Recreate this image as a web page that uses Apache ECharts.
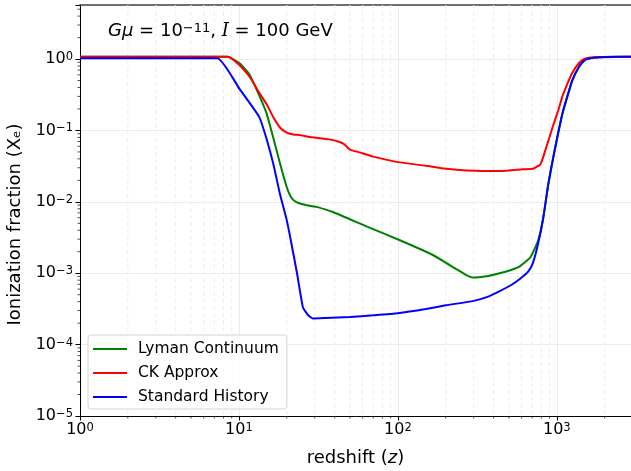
<!DOCTYPE html>
<html>
<head>
<meta charset="utf-8">
<script src="https://cdn.jsdelivr.net/npm/echarts@6/dist/echarts.min.js"></script>
<style>
  html, body { margin: 0; padding: 0; background: #fff; }
  #chart { width: 631px; height: 471px; }
</style>
</head>
<body>
<div id="chart"></div>
<script>
// ---- values ----
const lymanZ  = [1, 8.5, 10.1, 11.7, 13.5, 14.9, 16.4, 18.1, 20, 21.2, 22.5, 24.2, 28, 30.8, 39, 64, 103, 166, 235, 270, 296, 363, 437, 520, 585, 680, 760, 820, 885, 950, 1020, 1090, 1170, 1250, 1380, 1500, 1740, 2000, 2930];
const lymanXe = [1.08, 1.08, 0.87, 0.6, 0.3, 0.175, 0.081, 0.035, 0.016, 0.0118, 0.0102, 0.0095, 0.0088, 0.0085, 0.0072, 0.0045, 0.0029, 0.0018, 0.00113, 0.00094, 0.00087, 0.00091, 0.001, 0.00112, 0.00125, 0.00166, 0.0028, 0.0058, 0.018, 0.042, 0.092, 0.18, 0.31, 0.5, 0.78, 0.97, 1.05, 1.07, 1.08];

const ckZ  = [1, 8.5, 10.1, 11.7, 13.5, 15, 16.4, 18.1, 20, 22, 24.2, 28, 37, 43, 46, 49, 51, 60, 70, 100, 150, 200, 340, 450, 610, 708, 745, 785, 820, 860, 900, 950, 1020, 1090, 1170, 1250, 1380, 1500, 1700, 2930];
const ckXe = [1.08, 1.08, 0.82, 0.56, 0.33, 0.23, 0.155, 0.11, 0.093, 0.088, 0.086, 0.081, 0.075, 0.069, 0.064, 0.056, 0.053, 0.048, 0.043, 0.036, 0.032, 0.029, 0.027, 0.027, 0.0285, 0.029, 0.031, 0.033, 0.042, 0.059, 0.081, 0.119, 0.19, 0.31, 0.46, 0.64, 0.88, 1.01, 1.06, 1.08];

const stdZ  = [1, 7.3, 10.1, 13.4, 14.8, 16.4, 18.1, 20, 21.2, 23.2, 25.3, 27.2, 29.2, 35, 50, 70, 100, 150, 200, 300, 370, 437, 520, 585, 660, 708, 760, 820, 885, 950, 1020, 1090, 1170, 1250, 1380, 1500, 1740, 2000, 2930];
const stdXe = [1.03, 1.03, 0.38, 0.155, 0.081, 0.035, 0.013, 0.0055, 0.0029, 0.001, 0.00033, 0.00026, 0.000233, 0.000236, 0.000243, 0.000257, 0.000275, 0.000315, 0.000355, 0.00041, 0.00047, 0.00056, 0.00069, 0.00083, 0.00105, 0.0014, 0.0025, 0.0058, 0.018, 0.042, 0.092, 0.18, 0.31, 0.5, 0.78, 0.97, 1.05, 1.07, 1.08];

const xTickValues = [1, 10, 100, 1000];
const xTickLabels = ['{b|10}{s|0}', '{b|10}{s|1}', '{b|10}{s|2}', '{b|10}{s|3}'];
const yTickValues = [1e-5, 1e-4, 1e-3, 1e-2, 1e-1, 1];
const yTickLabels = ['{b|10}{s|−5}', '{b|10}{s|−4}', '{b|10}{s|−3}', '{b|10}{s|−2}', '{b|10}{s|−1}', '{b|10}{s|0}'];

const xMinor = [2, 3, 4, 5, 6, 7, 8, 9, 20, 30, 40, 50, 60, 70, 80, 90, 200, 300, 400, 500, 600, 700, 800, 900, 2000];
const yMinor = [];
for (let e = -5; e <= 0; e++) {
  for (let m = 2; m <= 9; m++) {
    const v = m * Math.pow(10, e);
    if (v < 5.72) yMinor.push(v);
  }
}

function pick(values, labels) {
  return function (v) {
    for (let i = 0; i < values.length; i++) {
      if (Math.abs(Math.log10(v) - Math.log10(values[i])) < 1e-6) return labels[i];
    }
    return '';
  };
}

const font = 'DejaVu Sans';
const pair = (xs, ys) => xs.map((x, i) => [x, ys[i]]);

// superscript styles for "10^n"
const tickRich = {
  b: { fontFamily: font, fontSize: 16, lineHeight: 16, verticalAlign: 'bottom', color: '#000' },
  s: { fontFamily: font, fontSize: 11.5, lineHeight: 11.5, verticalAlign: 'top', padding: [0, 0, 7, 0], color: '#000' }
};

let myChart = echarts.init(document.getElementById('chart'));
myChart.setOption({
  animation: false,
  textStyle: { fontFamily: font },
  title: {
    text: '{i|Gμ}{b| = 10}{s|−11}{b|, }{c|I}{b| = 100 GeV}',
    left: 108,
    top: 22,
    padding: 0,
    textStyle: {
      fontFamily: font,
      fontSize: 18,
      fontWeight: 'normal',
      color: '#000',
      rich: {
        b: { fontFamily: font, fontSize: 18, lineHeight: 18, verticalAlign: 'bottom' },
        i: { fontFamily: font, fontSize: 18, lineHeight: 18, verticalAlign: 'bottom', fontStyle: 'italic' },
        c: { fontFamily: 'DejaVu Serif', fontSize: 18, lineHeight: 18, verticalAlign: 'bottom', fontStyle: 'italic' },
        s: { fontFamily: font, fontSize: 13, lineHeight: 13, verticalAlign: 'top', padding: [0, 0, 8, 0] }
      }
    }
  },
  grid: { left: 80, right: 0, top: 5, bottom: 55, outerBoundsMode: 'none' },
  legend: {
    data: ['Lyman Continuum', 'CK Approx', 'Standard History'],
    orient: 'vertical',
    left: 88,
    top: 335,
    padding: [6, 8, 4, 5],
    itemGap: 8,
    icon: 'rect',
    itemWidth: 34,
    itemHeight: 2,
    backgroundColor: 'rgba(255,255,255,0.85)',
    borderColor: '#d4d4d4',
    borderWidth: 1,
    borderRadius: 3,
    textStyle: { fontFamily: font, fontSize: 15.5, color: '#000', padding: [0, 0, 0, 6] }
  },
  xAxis: [
    {
      type: 'log',
      logBase: 10,
      min: 1,
      max: 2930,
      name: '{n|redshift (}{i|z}{n|)}',
      nameLocation: 'middle',
      nameGap: 33,
      nameTextStyle: {
        fontSize: 18,
        color: '#000',
        rich: {
          n: { fontFamily: font, fontSize: 18 },
          i: { fontFamily: font, fontSize: 18, fontStyle: 'italic' }
        }
      },
      axisLine: { lineStyle: { color: '#000', width: 1 } },
      axisTick: { length: 4.5, lineStyle: { color: '#000' } },
      axisLabel: { formatter: pick(xTickValues, xTickLabels), margin: 6, rich: tickRich },
      splitLine: { show: true, lineStyle: { color: '#ebebeb', width: 1 } }
    },
    {
      type: 'log',
      position: 'top',
      min: 1,
      max: 2930,
      axisLine: { lineStyle: { color: '#444', width: 1.5 } },
      axisTick: { show: false },
      axisLabel: { show: false },
      splitLine: { show: false }
    }
  ],
  yAxis: {
    type: 'log',
    logBase: 10,
    min: 1e-5,
    max: 5.72,
    name: 'Ionization fraction (Xₑ)',
    nameLocation: 'middle',
    nameGap: 53,
    nameTextStyle: { fontSize: 18, color: '#000', padding: [0, 28, 0, 0] },
    axisLine: { show: true, lineStyle: { color: '#000', width: 1 } },
    axisTick: { length: 4.5, lineStyle: { color: '#000' } },
    axisLabel: { formatter: pick(yTickValues, yTickLabels), margin: 7, rich: tickRich },
    splitLine: { show: true, lineStyle: { color: '#ebebeb', width: 1 } }
  },
  series: [
    {
      // dashed minor grid + minor ticks on the x axis
      type: 'custom',
      silent: true,
      z: 1,
      data: xMinor.map((v) => [v, 1]),
      encode: { x: 0, y: 1 },
      renderItem: function (params, api) {
        const x = api.coord([api.value(0), 1])[0];
        const cs = params.coordSys;
        const bottom = cs.y + cs.height;
        return {
          type: 'group',
          children: [
            { type: 'line', shape: { x1: x, y1: cs.y, x2: x, y2: bottom }, style: { stroke: '#ececec', lineWidth: 1, lineDash: [4, 3] } },
            { type: 'line', shape: { x1: x, y1: bottom, x2: x, y2: bottom + 2.5 }, style: { stroke: '#000', lineWidth: 0.7 } }
          ]
        };
      }
    },
    {
      // minor ticks on the y axis
      type: 'custom',
      silent: true,
      z: 1,
      data: yMinor.map((v) => [1, v]),
      encode: { x: 0, y: 1 },
      renderItem: function (params, api) {
        const y = api.coord([1, api.value(1)])[1];
        const left = params.coordSys.x;
        return { type: 'line', shape: { x1: left - 2.5, y1: y, x2: left, y2: y }, style: { stroke: '#000', lineWidth: 0.7 } };
      }
    },
    {
      name: 'Lyman Continuum',
      type: 'line',
      data: pair(lymanZ, lymanXe),
      showSymbol: false,
      smooth: 0.15,
      z: 3,
      itemStyle: { color: '#008000' },
      lineStyle: { color: '#008000', width: 2 }
    },
    {
      name: 'CK Approx',
      type: 'line',
      data: pair(ckZ, ckXe),
      showSymbol: false,
      smooth: 0.15,
      z: 4,
      itemStyle: { color: '#ff0000' },
      lineStyle: { color: '#ff0000', width: 2 }
    },
    {
      name: 'Standard History',
      type: 'line',
      data: pair(stdZ, stdXe),
      showSymbol: false,
      smooth: 0.15,
      z: 5,
      itemStyle: { color: '#0000ff' },
      lineStyle: { color: '#0000ff', width: 2 }
    }
  ]
});
</script>
</body>
</html>
